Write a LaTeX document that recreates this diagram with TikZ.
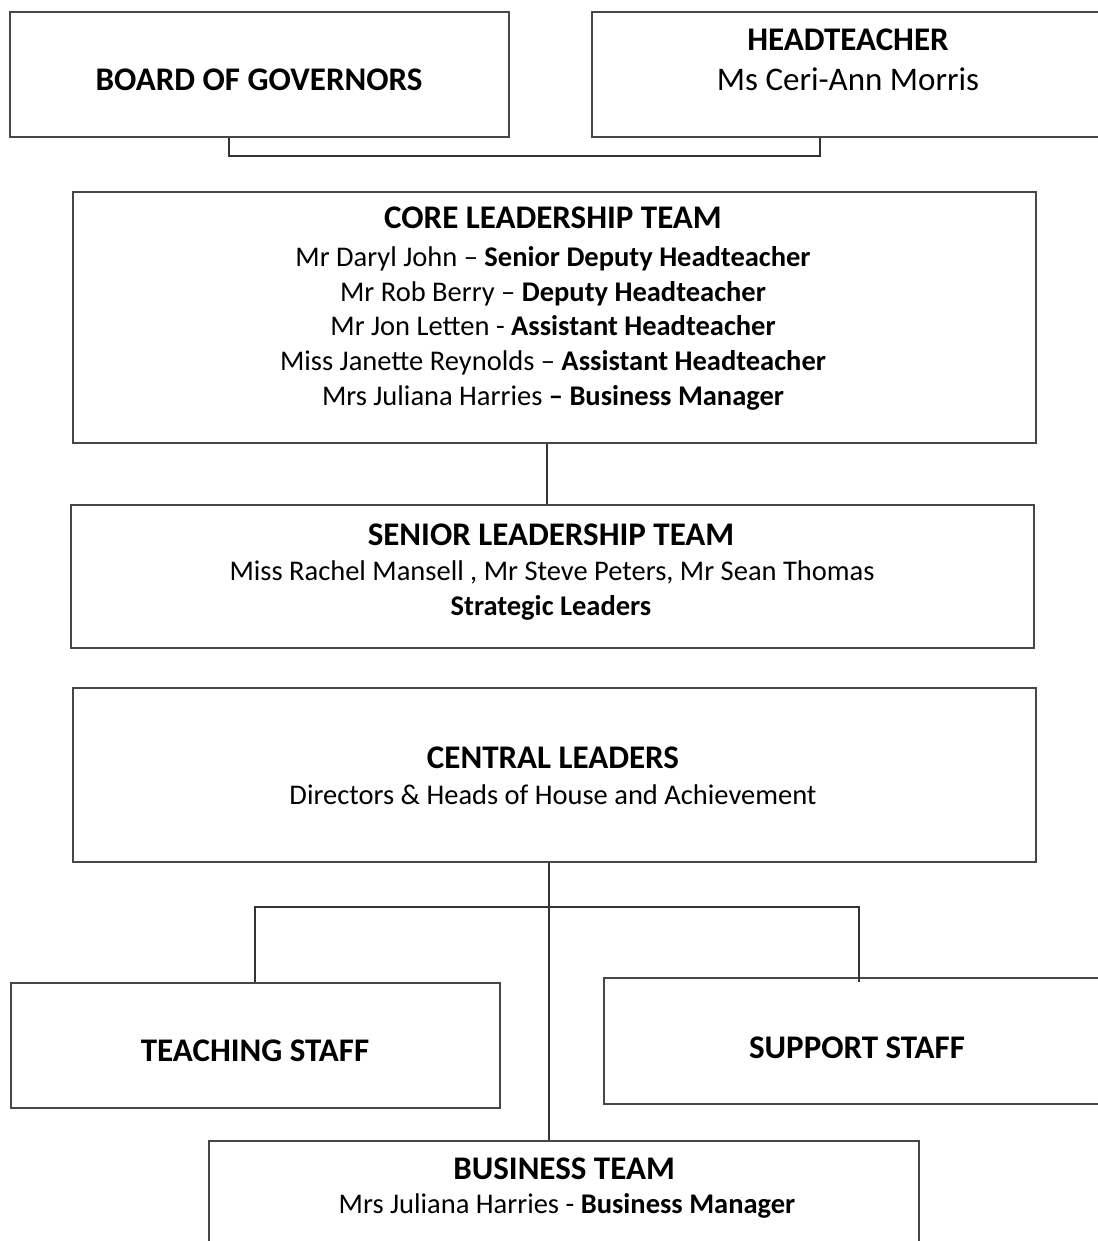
\documentclass[tikz,border=0pt]{standalone}
\usepackage{fontspec}
\setmainfont{Carlito}
\begin{document}
\begin{tikzpicture}[x=1pt,y=-1pt,
  box/.style={draw=black!72, line width=1.7pt, rectangle, inner sep=0pt, anchor=north west},
  conn/.style={draw=black!80, line width=1.1pt},
  ttl/.style={anchor=base, inner sep=0pt, font=\fontsize{33}{40}\selectfont\bfseries},
  sub/.style={anchor=base, inner sep=0pt, font=\fontsize{33}{40}\selectfont},
  bod/.style={anchor=base, inner sep=0pt, font=\fontsize{28.5}{35}\selectfont}]
\useasboundingbox (0,0) rectangle (1097,1241);
\fill[white] (0,0) rectangle (1097,1241);
% boxes
\node[box, minimum width=499pt, minimum height=125pt] (board) at (9,11) {};
\node[box, minimum width=519pt, minimum height=125pt] (head) at (591,11) {};
\node[box, minimum width=963pt, minimum height=251pt] (core) at (72,191) {};
\node[box, minimum width=963pt, minimum height=143pt] (slt) at (70,504) {};
\node[box, minimum width=963pt, minimum height=174pt] (central) at (72,687) {};
\node[box, minimum width=489pt, minimum height=125pt] (teach) at (10,982) {};
\node[box, minimum width=507pt, minimum height=126pt] (support) at (603,977) {};
\node[box, minimum width=710pt, minimum height=160pt] (business) at (208,1140) {};
% texts
\node[ttl] (tboard) at (259,91) {BOARD OF GOVERNORS};
\node[ttl] (thead) at (848,51) {HEADTEACHER};
\node[sub] (thead2) at (848,91) {Ms Ceri-Ann Morris};
\node[ttl] (tcore) at (553,229) {CORE LEADERSHIP TEAM};
\node[bod] (tc1) at (553,266) {Mr Daryl John – \textbf{Senior Deputy Headteacher}};
\node[bod] (tc2) at (553,301) {Mr Rob Berry – \textbf{Deputy Headteacher}};
\node[bod] (tc3) at (553,335) {Mr Jon Letten - \textbf{Assistant Headteacher}};
\node[bod] (tc4) at (553,370) {Miss Janette Reynolds – \textbf{Assistant Headteacher}};
\node[bod] (tc5) at (553,405) {Mrs Juliana Harries \textbf{– Business Manager}};
\node[ttl] (tslt) at (551,545) {SENIOR LEADERSHIP TEAM};
\node[bod] (ts1) at (552,580) {Miss Rachel Mansell , Mr Steve Peters, Mr Sean Thomas};
\node[bod] (ts2) at (551,615) {\textbf{Strategic Leaders}};
\node[ttl] (tcent) at (553,768) {CENTRAL LEADERS};
\node[bod] (tcent1) at (553,804) {Directors \& Heads of House and Achievement};
\node[ttl] (tteach) at (255,1061) {TEACHING STAFF};
\node[ttl] (tsupp) at (857,1058) {SUPPORT STAFF};
\node[ttl] (tbus) at (564,1179) {BUSINESS TEAM};
\node[bod] (tbus1) at (567,1213) {Mrs Juliana Harries - \textbf{Business Manager}};
% connector coordinates
\coordinate (bx) at (229,0);
\coordinate (hx) at (820,0);
\coordinate (topbar) at (0,156);
\coordinate (cx) at (547,0);
\coordinate (mx) at (549,0);
\coordinate (bar) at (0,907);
\coordinate (tx) at (255,0);
\coordinate (sx) at (859,0);
% connectors
\draw[conn] (board.south -| bx) -- (topbar -| bx) -- (topbar -| hx) -- (head.south -| hx);
\draw[conn] (core.south -| cx) -- (slt.north -| cx);
\draw[conn] (central.south -| mx) -- (business.north -| mx);
\draw[conn] (teach.north -| tx) -- (bar -| tx) -- (bar -| sx) -- ([yshift=-5pt]support.north -| sx);
\end{tikzpicture}
\end{document}
